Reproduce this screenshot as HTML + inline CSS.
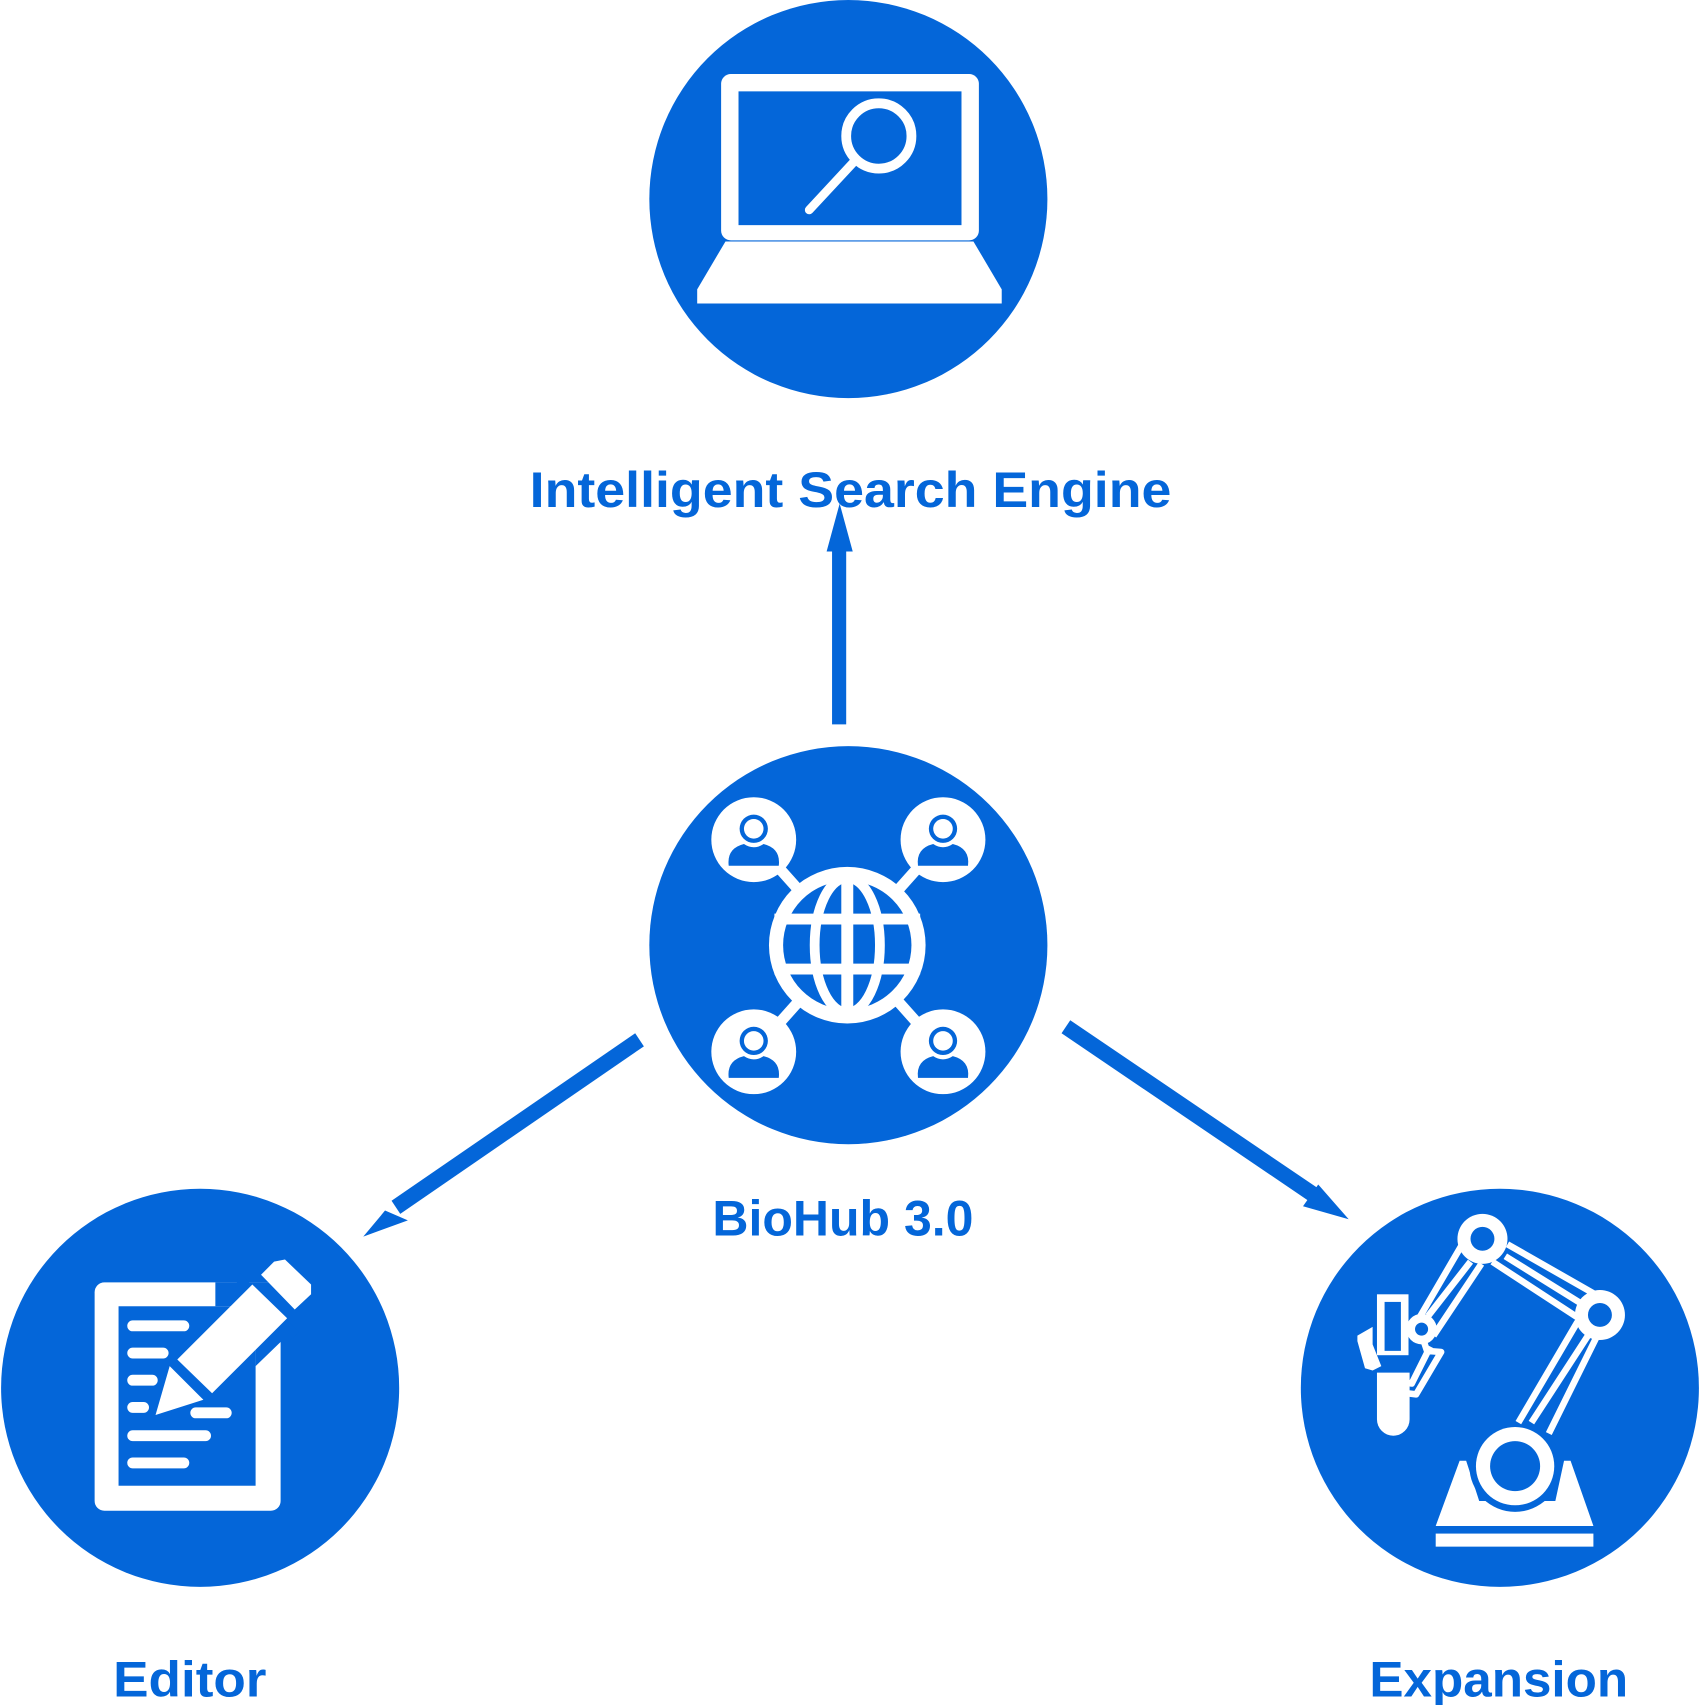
<!DOCTYPE html>
<html><head><meta charset="utf-8"><style>
html,body{margin:0;padding:0;background:#fff;}
svg{display:block}
text{font-family:"Liberation Sans Narrow","Liberation Sans",sans-serif;font-weight:bold;fill:#0466d9;}
</style></head><body>
<svg width="1700" height="1705" viewBox="0 0 1563 1567.6" xmlns="http://www.w3.org/2000/svg">
<g fill="#0466d9">
<circle cx="780" cy="183" r="183"/>
<circle cx="780" cy="869" r="183"/>
<circle cx="184" cy="1276" r="183"/>
<circle cx="1379" cy="1276" r="183"/>
</g>
<!-- arrows -->
<g fill="#0466d9" stroke="none">
<rect x="765" y="505" width="13" height="161"/>
<polygon points="772,463 760,507 784,507"/>
<polygon points="584,950 592,962 368,1116 360,1104"/>
<polygon points="334,1137 354,1113 375,1122"/>
<polygon points="976,950 984,938 1214,1094 1206,1106"/>
<polygon points="1240,1121 1212,1089 1198,1109"/>
</g>
<!-- labels -->
<text x="487" y="466" font-size="46" textLength="590" lengthAdjust="spacingAndGlyphs">Intelligent Search Engine</text>
<text x="655" y="1136" font-size="46" textLength="240" lengthAdjust="spacingAndGlyphs">BioHub 3.0</text>
<text x="104" y="1560" font-size="46" textLength="141" lengthAdjust="spacingAndGlyphs">Editor</text>
<text x="1259" y="1560" font-size="46" textLength="238" lengthAdjust="spacingAndGlyphs">Expansion</text>
<!-- laptop -->
<g fill="#fff">
<rect x="663" y="68" width="237" height="153" rx="9"/>
<rect x="679" y="84" width="205" height="123" fill="#0466d9"/>
<polygon points="667,222 895,222 921,266 921,279 641,279 641,266"/>
</g>
<circle cx="808" cy="125" r="30" fill="none" stroke="#fff" stroke-width="9"/>
<line x1="784" y1="150" x2="744" y2="193" stroke="#fff" stroke-width="8" stroke-linecap="round"/>
<!-- network -->
<g stroke="#fff" stroke-width="10" fill="none">
<line x1="693" y1="772" x2="867" y2="967"/>
<line x1="867" y1="772" x2="693" y2="967"/>
</g>
<circle cx="779" cy="869" r="72" fill="#fff"/>
<circle cx="779" cy="869" r="59" fill="#0466d9"/>
<g stroke="#fff" stroke-width="9" fill="none">
<ellipse cx="779" cy="869" rx="30" ry="62"/>
<line x1="779" y1="805" x2="779" y2="933" stroke-width="11"/>
<line x1="712" y1="845" x2="846" y2="845" stroke-width="10"/>
<line x1="712" y1="891" x2="846" y2="891" stroke-width="10"/>
</g>
<g>
<g id="u"><circle cx="693" cy="772" r="39" fill="#fff"/><circle cx="693" cy="762" r="13" fill="#0466d9"/><circle cx="693" cy="762" r="9" fill="#fff"/><path d="M670 796 L716 796 Q718 780 702 776 Q693 782 684 776 Q668 780 670 796Z" fill="#0466d9"/></g>
<use href="#u" x="174"/><use href="#u" y="195"/><use href="#u" x="174" y="195"/>
</g>
<!-- editor -->
<g fill="#fff">
<rect x="87" y="1179" width="171" height="210" rx="9"/>
</g>
<rect x="109" y="1201" width="126" height="165" fill="#0466d9"/>
<polygon points="198,1179 262,1179 262,1230 235,1256 235,1201 198,1201" fill="#0466d9"/>
<polygon points="220,1170 275,1225 262,1236 215,1190" fill="#0466d9"/>
<g stroke="#fff" stroke-width="10" stroke-linecap="round">
<line x1="122" y1="1219" x2="169" y2="1219"/>
<line x1="122" y1="1244" x2="150" y2="1244"/>
<line x1="122" y1="1269" x2="140" y2="1269"/>
<line x1="122" y1="1294" x2="132" y2="1294"/>
<line x1="122" y1="1320" x2="189" y2="1320"/>
<line x1="122" y1="1345" x2="169" y2="1345"/>
<line x1="180" y1="1299" x2="208" y2="1299"/>
</g>
<polygon points="163,1250 232,1181 264,1212 195,1281" fill="#fff"/>
<polygon points="156,1256 187,1287 143,1301" fill="#fff"/>
<polygon points="240,1172 252,1160 262,1158 286,1181 286,1190 271,1204" fill="#fff"/>
<!-- robot -->
<g fill="#fff">
<rect x="1320" y="1410" width="145" height="12"/>
<polygon points="1342,1343 1348,1343 1360,1380 1430,1380 1438,1343 1444,1343 1465,1403 1320,1403"/>
<circle cx="1393" cy="1348" r="42" fill="#0466d9"/>
<circle cx="1393" cy="1348" r="36"/>
</g>
<circle cx="1393" cy="1348" r="23" fill="#0466d9"/>
<g stroke="#fff" stroke-width="6" fill="none" stroke-linejoin="round">
<polyline points="1396,1308 1450,1216 1470,1225 1424,1318"/>
<line x1="1408" y1="1308" x2="1460" y2="1228"/>
<polyline points="1372,1160 1450,1211 1470,1192 1386,1144"/>
<line x1="1384" y1="1155" x2="1453" y2="1198"/>
<polyline points="1345,1143 1303,1215 1312,1242 1325,1243 1302,1282 1270,1278 1270,1268 1298,1272 1315,1238"/>
<line x1="1352" y1="1160" x2="1313" y2="1210"/>
<line x1="1362" y1="1162" x2="1318" y2="1228"/>
</g>
<circle cx="1363" cy="1139" r="23" fill="#fff"/><circle cx="1363" cy="1139" r="11" fill="#0466d9"/>
<circle cx="1471" cy="1209" r="23" fill="#fff"/><circle cx="1471" cy="1209" r="11" fill="#0466d9"/>
<circle cx="1307" cy="1222" r="14" fill="#fff"/><circle cx="1307" cy="1222" r="6" fill="#0466d9"/>
<rect x="1266" y="1190" width="29" height="56" fill="#fff"/>
<rect x="1273" y="1197" width="15" height="45" fill="#0466d9"/>
<path d="M1266 1262 L1296 1262 L1296 1305 A14 14 0 0 1 1266 1305Z" fill="#fff"/>
<polygon points="1262,1220 1262,1236 1270,1256 1262,1260 1255,1258 1248,1233 1248,1228" fill="#fff"/>
</svg>
</body></html>
